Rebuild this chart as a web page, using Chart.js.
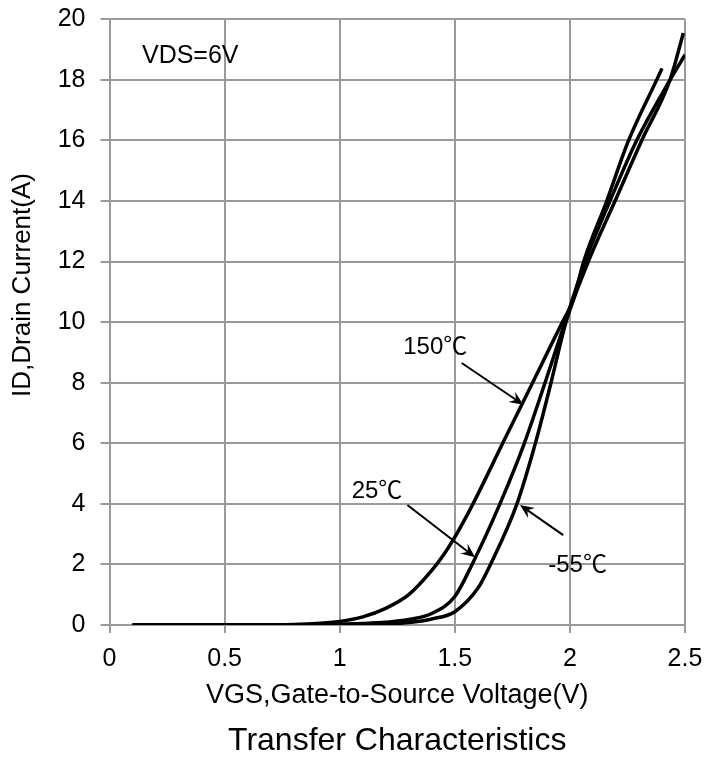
<!DOCTYPE html>
<html>
<head>
<meta charset="utf-8">
<script src="https://cdn.jsdelivr.net/npm/chart.js@4.4.1/dist/chart.umd.min.js"></script>
<style>
  html, body { margin: 0; padding: 0; background: #ffffff; }
  #wrap { width: 706px; height: 760px; }
</style>
</head>
<body>
<div id="wrap"><canvas id="c" width="706" height="760"></canvas></div>
<script>
// ---- data ----
const series = ['150℃', '25℃', '-55℃'];

const vgs150 = [0.1, 0.5, 0.8,  0.9,  1.0,  1.1,  1.2,  1.3, 1.4,  1.45, 1.5, 1.579, 1.708, 1.838, 1.967, 2.015, 2.06, 2.16, 2.255, 2.377, 2.4];
const id150  = [0,   0,   0.02, 0.05, 0.12, 0.27, 0.55, 1.0, 1.8,  2.3,  2.9, 4.0,   6.0,   8.0,   10.0,  10.74, 12.0, 14.0, 16.0,  18.0,  18.38];

const vgs25 = [0.1, 0.8, 1.0,  1.1,  1.2,  1.3,  1.4,  1.5,  1.575, 1.696, 1.802, 1.892, 1.979, 2.066, 2.174, 2.29, 2.435, 2.5];
const id25  = [0,   0,   0.03, 0.05, 0.09, 0.18, 0.38, 0.94, 2.0,   4.0,   6.0,   8.0,   10.0,  12.0,  14.0,  16.0, 18.0,  18.83];

const vgsM55 = [0.1, 0.9, 1.1,  1.2,  1.3,  1.4,  1.5,  1.6,  1.655, 1.77, 1.85, 1.918, 1.983, 2.08, 2.196, 2.312, 2.435, 2.493];
const idM55  = [0,   0,   0.01, 0.03, 0.08, 0.2,  0.44, 1.21, 2.0,   4.0,  6.0,  8.0,   10.0,  12.0, 14.0,  16.0,  18.0,  19.55];

const xTickLabels = ['0', '0.5', '1', '1.5', '2', '2.5'];
const yTickLabels = ['0', '2', '4', '6', '8', '10', '12', '14', '16', '18', '20'];

// annotation texts (left edge, vertical centre) and arrows, in data coordinates
const noteTexts = ['VDS=6V', '150℃', '25℃', '-55℃'];
const noteSize  = [25, 24, 24, 24];
const noteX = [0.141, 1.276, 1.052, 1.906];
const noteY = [18.86, 9.22, 4.49, 2.05];

const arrowFromX = [1.530, 1.294, 1.971];
const arrowFromY = [8.65, 3.96, 2.97];
const arrowToX   = [1.798, 1.588, 1.783];
const arrowToY   = [7.27, 2.24, 3.96];

// ---- build ----
function pts(xs, ys) { return xs.map((x, i) => ({ x: x, y: ys[i] })); }

const FONT = "'Liberation Sans', Arial, sans-serif";
const CJK = "'Noto Sans CJK SC', 'Liberation Sans', sans-serif";
const GRID = '#9a9a9a';

const notesPlugin = {
  id: 'notes',
  afterDatasetsDraw(chart) {
    const { ctx, scales: { x, y } } = chart;
    ctx.save();
    ctx.strokeStyle = '#000';
    ctx.fillStyle = '#000';
    ctx.lineWidth = 2;
    for (let i = 0; i < arrowFromX.length; i++) {
      const x1 = x.getPixelForValue(arrowFromX[i]);
      const y1 = y.getPixelForValue(arrowFromY[i]);
      const x2 = x.getPixelForValue(arrowToX[i]);
      const y2 = y.getPixelForValue(arrowToY[i]);
      const ang = Math.atan2(y2 - y1, x2 - x1);
      const L = 14, W = 6, back = 9;
      const c = Math.cos(ang), s = Math.sin(ang);
      ctx.beginPath();
      ctx.moveTo(x1, y1);
      ctx.lineTo(x2 - c * back, y2 - s * back);
      ctx.stroke();
      ctx.beginPath();
      ctx.moveTo(x2, y2);
      ctx.lineTo(x2 - c * L + s * W, y2 - s * L - c * W);
      ctx.lineTo(x2 - c * back, y2 - s * back);
      ctx.lineTo(x2 - c * L - s * W, y2 - s * L + c * W);
      ctx.closePath();
      ctx.fill();
    }
    ctx.textBaseline = 'alphabetic';
    ctx.textAlign = 'left';
    for (let i = 0; i < noteTexts.length; i++) {
      const t = noteTexts[i];
      const px = x.getPixelForValue(noteX[i]);
      const base = y.getPixelForValue(noteY[i]) + 0.36 * noteSize[i];
      const k = t.indexOf('℃');
      const main = k >= 0 ? t.slice(0, k) : t;
      ctx.font = noteSize[i] + "px " + FONT;
      ctx.fillText(main, px, base);
      if (k >= 0) {
        const w = ctx.measureText(main).width;
        ctx.font = noteSize[i] + "px " + CJK;
        ctx.fillText(t.slice(k), px + w, base);
      }
    }
    ctx.save();
    ctx.translate(23, 285);
    ctx.rotate(-Math.PI / 2);
    ctx.textAlign = 'center';
    ctx.textBaseline = 'middle';
    ctx.font = "26px " + FONT;
    ctx.fillText('ID,Drain Current(A)', 0, 0);
    ctx.restore();
    ctx.restore();
  }
};

const lineStyle = { borderColor: '#000', borderWidth: 3.5, pointRadius: 0, showLine: true, fill: false, cubicInterpolationMode: 'monotone' };

new Chart(document.getElementById('c'), {
  type: 'scatter',
  data: {
    datasets: [
      Object.assign({ label: series[0], data: pts(vgs150, id150) }, lineStyle),
      Object.assign({ label: series[1], data: pts(vgs25, id25) }, lineStyle),
      Object.assign({ label: series[2], data: pts(vgsM55, idM55) }, lineStyle)
    ]
  },
  options: {
    responsive: false,
    animation: false,
    devicePixelRatio: 1,
    layout: { padding: { left: 0, right: 21, top: 19.3, bottom: 0 } },
    plugins: {
      legend: { display: false },
      tooltip: { enabled: false },
      title: {
        display: true,
        position: 'bottom',
        fullSize: false,
        text: 'Transfer Characteristics',
        color: '#000',
        font: { family: FONT, size: 32, weight: 'normal' },
        padding: { top: 0, bottom: 0 }
      }
    },
    scales: {
      x: {
        type: 'linear', min: 0, max: 2.5,
        afterFit(s) { s.height = 96.6; s.paddingLeft = 0; s.paddingRight = 0; },
        border: { display: true, color: GRID, width: 2 },
        grid: { color: GRID, lineWidth: 2, tickLength: 8, tickColor: GRID },
        ticks: {
          stepSize: 0.5, color: '#000', padding: 11,
          font: { family: FONT, size: 25 },
          callback: (v) => xTickLabels[Math.round(v / 0.5)]
        },
        title: {
          display: true, text: 'VGS,Gate-to-Source Voltage(V)', color: '#000',
          font: { family: FONT, size: 27 }, padding: { top: 0, bottom: 9.5 }
        }
      },
      y: {
        type: 'linear', min: 0, max: 20,
        afterFit(s) { s.width = 109.5; s.paddingTop = 0; s.paddingBottom = 0; },
        border: { display: true, color: GRID, width: 2 },
        grid: { color: GRID, lineWidth: 2, tickLength: 9, tickColor: GRID },
        ticks: {
          stepSize: 2, color: '#000', padding: 15,
          font: { family: FONT, size: 25 },
          callback: (v) => yTickLabels[Math.round(v / 2)]
        }
      }
    }
  },
  plugins: [notesPlugin]
});
</script>
</body>
</html>
